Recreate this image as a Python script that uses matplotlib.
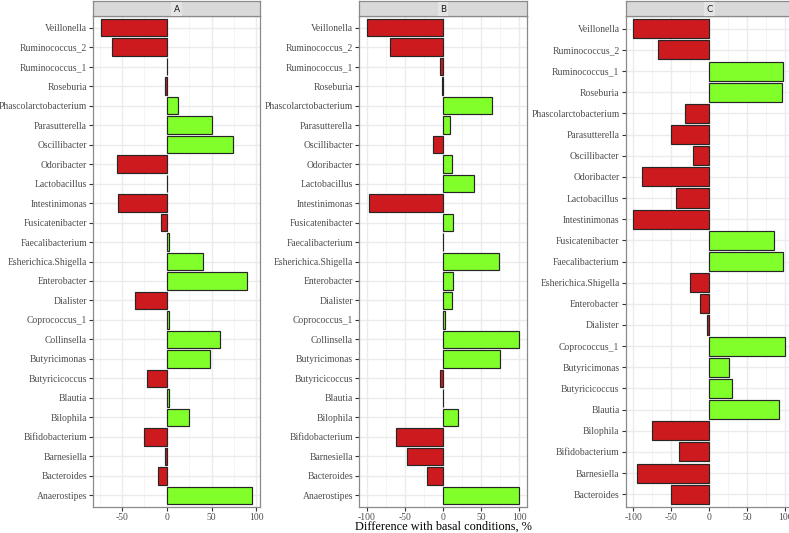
import numpy as np
import matplotlib
matplotlib.use("Agg")
import matplotlib.pyplot as plt

# genera, alphabetical (ggplot puts the first level at the bottom)
genera_ab = ["Anaerostipes", "Bacteroides", "Barnesiella", "Bifidobacterium", "Bilophila",
             "Blautia", "Butyricicoccus", "Butyricimonas", "Collinsella", "Coprococcus_1",
             "Dialister", "Enterobacter", "Esherichica.Shigella", "Faecalibacterium",
             "Fusicatenibacter", "Intestinimonas", "Lactobacillus", "Odoribacter",
             "Oscillibacter", "Parasutterella", "Phascolarctobacterium", "Roseburia",
             "Ruminococcus_1", "Ruminococcus_2", "Veillonella"]
genera_c = ["Bacteroides", "Barnesiella", "Bifidobacterium", "Bilophila", "Blautia",
            "Butyricicoccus", "Butyricimonas", "Coprococcus_1", "Dialister", "Enterobacter",
            "Esherichica.Shigella", "Faecalibacterium", "Fusicatenibacter", "Intestinimonas",
            "Lactobacillus", "Odoribacter", "Oscillibacter", "Parasutterella",
            "Phascolarctobacterium", "Roseburia", "Ruminococcus_1", "Ruminococcus_2",
            "Veillonella"]

diff_a = [95.5, -9.3, -2.5, -25.6, 25.2, 2.0, -22.2, 48.1, 59.3, 2.0,
          -35.9, 88.9, 40.0, 2.0, -7.0, -54.4, 0.0, -55.9, 73.7, 50.0,
          12.6, -2.2, 0.0, -61.1, -73.5]
diff_b = [100.0, -21.4, -46.8, -61.6, 19.2, 0.0, -3.5, 74.7, 100.0, 2.6,
          11.4, 13.5, 73.8, 0.0, 13.1, -97.9, 40.2, 11.4, -13.5, 8.7,
          65.0, -1.8, -3.5, -69.0, -100.0]
diff_c = [-49.9, -95.4, -39.8, -74.8, 91.4, 29.7, 25.4, 100.0, -2.6, -12.3,
          -25.4, 96.3, 84.9, -100.0, -44.2, -88.4, -21.9, -50.8, -31.9, 94.9,
          96.7, -68.2, -100.0]

panels = [("A", genera_ab, diff_a), ("B", genera_ab, diff_b), ("C", genera_c, diff_c)]

RED = "#CD1A1E"
GREEN = "#80FF2A"
serif = "Liberation Serif"

W, H = 789, 533
fig = plt.figure(figsize=(W / 100, H / 100), dpi=100)

lefts = [93.3, 359.3, 625.7]
widths = [166.7, 167.4, 167.4]
top, bottom, strip_top = 16.0, 507.0, 0.5

for (name, genera, vals), lx, wx in zip(panels, lefts, widths):
    ax = fig.add_axes([lx / W, (H - bottom) / H, wx / W, (bottom - top) / H])
    y = np.arange(len(genera))
    vals = np.array(vals)
    cols = [RED if v < 0 else GREEN for v in vals]
    ax.barh(y, vals, height=0.9, color=cols, edgecolor="#262626", linewidth=0.85, zorder=3)

    lo, hi = vals.min(), vals.max()
    pad = (hi - lo) * 0.05
    ax.set_xlim(lo - pad, hi + pad)
    ax.set_ylim(-0.6, len(genera) - 0.4)
    ax.set_yticks(y)
    ax.set_yticklabels(genera)
    ticks = [t for t in [-100, -50, 0, 50, 100] if lo - pad <= t <= hi + pad]
    ax.set_xticks(ticks)
    ax.set_xticklabels([str(t) for t in ticks])
    ax.set_xticks([t for t in [-75, -25, 25, 75] if lo - pad <= t <= hi + pad], minor=True)

    ax.grid(True, which="major", color="#EBEBEB", linewidth=1.0, zorder=0)
    ax.grid(True, which="minor", axis="x", color="#F2F2F2", linewidth=0.6, zorder=0)
    ax.set_axisbelow(True)
    ax.tick_params(axis="both", which="major", length=3, width=0.8, color="#333333",
                   labelsize=6.95, labelcolor="#4D4D4D", pad=1.5)
    ax.tick_params(axis="x", which="minor", length=0)
    for lab in ax.get_xticklabels() + ax.get_yticklabels():
        lab.set_family(serif)
    for s in ax.spines.values():
        s.set_color("#8A8A8A")
        s.set_linewidth(0.9)

    # facet strip
    sx = fig.add_axes([lx / W, (H - top) / H, wx / W, (top - strip_top) / H])
    sx.set_facecolor("#D9D9D9")
    sx.set_xticks([])
    sx.set_yticks([])
    for s in sx.spines.values():
        s.set_color("#8A8A8A")
        s.set_linewidth(0.9)
    sx.text(0.5, 0.45, name, ha="center", va="center", fontsize=6.5, color="#1A1A1A",
            family="DejaVu Sans",
            bbox=dict(boxstyle="square,pad=0.25", facecolor="#E4E4E4", edgecolor="none"))

fig.text(443 / W, (H - 527) / H, "Difference with basal conditions, %", ha="center",
         va="center", fontsize=8.8, family=serif, color="black")

fig.savefig("out.png", dpi=100)
